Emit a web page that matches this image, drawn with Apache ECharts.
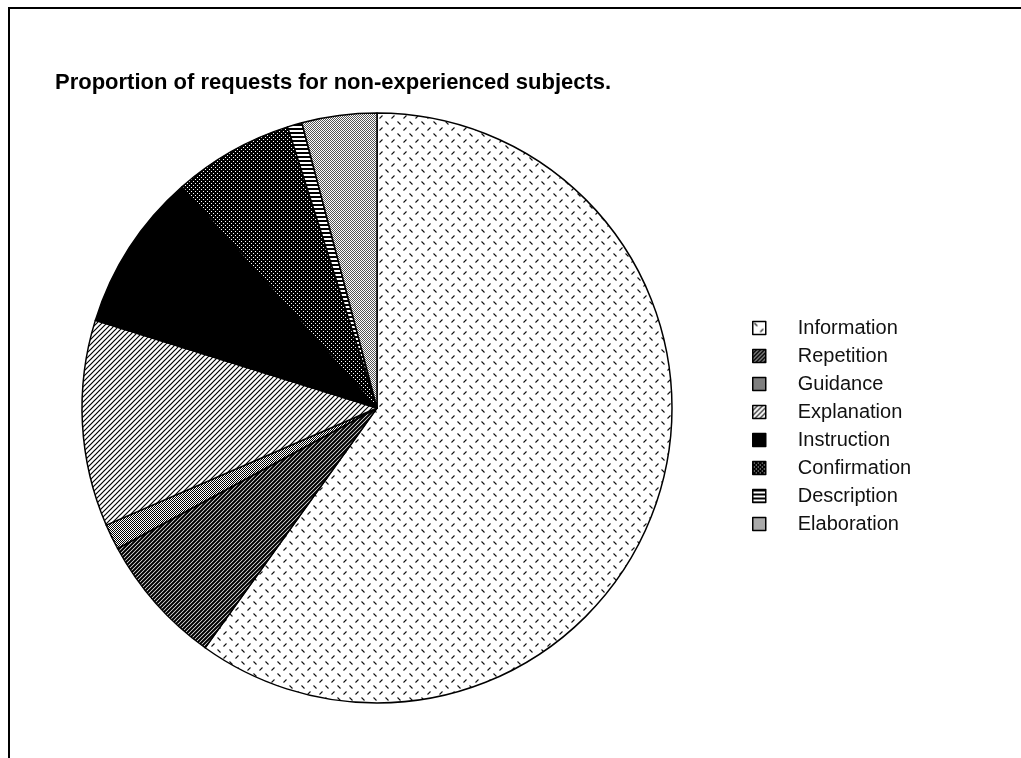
<!DOCTYPE html>
<html>
<head>
<meta charset="utf-8">
<script src="https://cdn.jsdelivr.net/npm/echarts@6/dist/echarts.min.js"></script>
<style>html,body{margin:0;padding:0;background:#fff;}#c{width:1021px;height:758px;}</style>
</head>
<body>
<div id="c"></div>
<script>
const titleText = 'Proportion of requests for non-experienced subjects.';
const categories = ['Information','Repetition','Guidance','Explanation','Instruction','Confirmation','Description','Elaboration'];
const values = [59.9, 7.2, 1.4, 11.3, 8.7, 6.6, 0.8, 4.1];

function mk(w, h, draw) {
  const c = document.createElement('canvas');
  c.width = w; c.height = h;
  const g = c.getContext('2d');
  g.fillStyle = '#fff'; g.fillRect(0, 0, w, h);
  draw(g);
  return c;
}
function diag(s, lw) {
  return mk(s, s, g => {
    g.strokeStyle = '#000'; g.lineWidth = lw; g.lineCap = 'square';
    g.beginPath();
    g.moveTo(0, s); g.lineTo(s, 0);
    g.moveTo(-s, s); g.lineTo(s, -s);
    g.moveTo(0, 2 * s); g.lineTo(2 * s, 0);
    g.stroke();
  });
}
const patterns = {
  Information: mk(12, 12, g => {
    g.strokeStyle = '#111'; g.lineWidth = 1.1;
    g.beginPath();
    g.moveTo(1.5, 1.5); g.lineTo(4.5, 4.5);
    g.moveTo(7.5, 10.5); g.lineTo(10.5, 7.5);
    g.stroke();
  }),
  Repetition: diag(4, 2.1),
  Guidance: mk(2, 2, g => { g.fillStyle = '#000'; g.fillRect(0, 0, 1, 1); g.fillRect(1, 1, 1, 1); }),
  Explanation: diag(5, 1.2),
  Instruction: null,
  Confirmation: mk(4, 4, g => { g.fillStyle = '#000'; g.fillRect(0, 0, 4, 4); g.fillStyle = '#fff'; g.fillRect(1, 1, 1, 1); g.fillRect(3, 3, 1, 1); }),
  Description: mk(4, 4, g => { g.fillStyle = '#000'; g.fillRect(0, 0, 4, 2); }),
  Elaboration: mk(2, 2, g => { g.fillStyle = '#555'; g.fillRect(0, 0, 1, 1); g.fillRect(1, 1, 1, 1); })
};

const data = categories.map((name, i) => ({
  name: name,
  value: values[i],
  itemStyle: { color: patterns[name] ? { image: patterns[name], repeat: 'repeat' } : '#000' }
}));

const chart = echarts.init(document.getElementById('c'), null, { renderer: 'canvas' });
chart.setOption({
  backgroundColor: '#fff',
  animation: false,
  title: {
    text: titleText,
    left: 50, top: 67,
    textStyle: { fontFamily: 'Liberation Sans, Arial, sans-serif', fontWeight: 'bold', fontSize: 22, color: '#000' }
  },
  legend: {
    orient: 'vertical',
    left: 752, top: 318,
    padding: 0,
    itemWidth: 13, itemHeight: 13, itemGap: 8,
    icon: 'rect',
    data: categories,
    itemStyle: { borderColor: '#000', borderWidth: 1.5 },
    textStyle: { fontFamily: 'Liberation Sans, Arial, sans-serif', fontSize: 20, color: '#111', padding: [0, 0, 0, 27] }
  },
  graphic: [{
    type: 'polyline',
    shape: { points: [[1021, 8], [9, 8], [9, 758]] },
    style: { stroke: '#000', lineWidth: 2, fill: null }
  }],
  series: [{
    type: 'pie',
    center: [377, 408],
    radius: [0, 295],
    startAngle: 90,
    clockwise: true,
    label: { show: false },
    labelLine: { show: false },
    emphasis: { disabled: true },
    itemStyle: { borderColor: '#000', borderWidth: 1.5 },
    data: data
  }]
});
</script>
</body>
</html>
